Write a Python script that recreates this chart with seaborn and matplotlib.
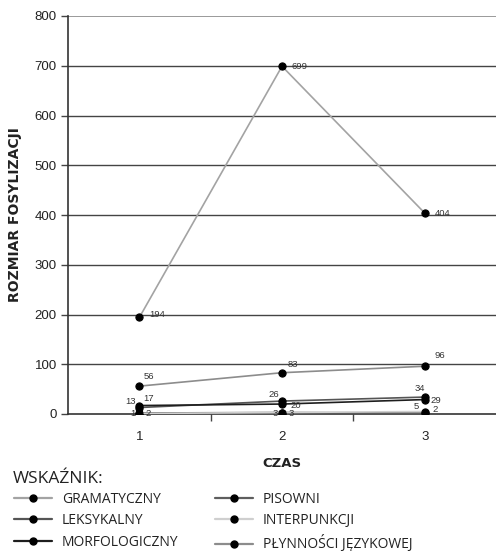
import matplotlib
matplotlib.use("Agg")
import matplotlib.pyplot as plt
from matplotlib.lines import Line2D
import seaborn as sns
import pandas as pd

# ---- data ----
czas = [1, 2, 3]
series_names = ["GRAMATYCZNY", "LEKSYKALNY", "MORFOLOGICZNY",
                "PISOWNI", "INTERPUNKCJI", "PŁYNNOŚCI JĘZYKOWEJ"]
gramatyczny = [194, 699, 404]
leksykalny = [13, 26, 34]
morfologiczny = [17, 20, 29]
pisowni = [2, 3, 2]
interpunkcji = [1, 3, 5]
plynnosci = [56, 83, 96]
values = [gramatyczny, leksykalny, morfologiczny, pisowni, interpunkcji, plynnosci]
y_ticks = [0, 100, 200, 300, 400, 500, 600, 700, 800]

# ---- styles ----
colors = ["#a3a3a3", "#555555", "#1e1e1e", "#5e5e5e", "#cfcfcf", "#8c8c8c"]
# label offsets in pixels (dx, dy, ha) per series per point
label_offsets = [
    [(10, 3, "left"), (10, 0, "left"), (10, 0, "left")],
    [(-4, 6, "right"), (-3, 7, "right"), (0, 9, "right")],
    [(4, 7, "left"), (8, -1, "left"), (6, -1, "left")],
    [(6, 0, "left"), (7, -1, "left"), (8, 4, "left")],
    [(-4, 0, "right"), (-4, -1, "right"), (-6, 5, "right")],
    [(4, 10, "left"), (6, 8, "left"), (10, 11, "left")],
]

sns.set_theme(style="white")
plt.rcParams["font.family"] = ["Liberation Sans", "DejaVu Sans"]

fig = plt.figure(figsize=(4.96, 5.51), dpi=100)
ax = fig.add_axes([68 / 496, 1 - 414 / 551, 1 - 68 / 496, (414 - 16) / 551])

rows = []
for name, vals in zip(series_names, values):
    for t, v in zip(czas, vals):
        rows.append({"czas": t, "val": v, "series": name})
df = pd.DataFrame(rows)

ax.set_axisbelow(True)
for yt in y_ticks[1:-1]:
    ax.axhline(yt, color="#444444", lw=1.0, zorder=0)
ax.axhline(800, color="#9a9a9a", lw=1.4, zorder=0)

for i, name in enumerate(series_names):
    sub = df[df["series"] == name]
    sns.lineplot(data=sub, x="czas", y="val", ax=ax, color=colors[i],
                 lw=1.2, marker="o", markersize=5.2, markerfacecolor="black",
                 markeredgecolor="black", zorder=3 + i)

px = 0.72  # pixels to points
for i, vals in enumerate(values):
    for j, (t, v) in enumerate(zip(czas, vals)):
        dx, dy, ha = label_offsets[i][j]
        ax.annotate(str(v), (t, v), xytext=(dx * px, dy * px),
                    textcoords="offset points", ha=ha, va="center",
                    fontsize=6.8, color="#333333", zorder=10)

ax.set_xlim(0.5, 3.5)
ax.set_ylim(0, 800)
ax.set_yticks(y_ticks)
ax.set_xticks(czas)
ax.set_xticks([1.5, 2.5], minor=True)
ax.tick_params(axis="x", which="major", length=0, labelsize=9.5, pad=12,
               colors="#222222")
ax.tick_params(axis="x", which="minor", length=5, width=1, color="#444444",
               direction="out", bottom=True)
ax.tick_params(axis="y", which="major", length=5, width=1, color="#444444",
               direction="out", left=True, labelsize=9.5, pad=3, labelcolor="#222222")
for s in ["top", "right"]:
    ax.spines[s].set_visible(False)
for s in ["left", "bottom"]:
    ax.spines[s].set_color("#333333")
    ax.spines[s].set_linewidth(1.2)

ax.set_xlabel("CZAS", fontsize=9.5, fontweight="bold", family="DejaVu Sans",
              labelpad=10, color="#222222")
ax.set_ylabel("ROZMIAR FOSYLIZACJI", fontsize=10, fontweight="bold",
              family="DejaVu Sans", labelpad=9, color="#222222")

fig.text(13 / 496, 1 - 479 / 551, "WSKAŹNIK:", fontsize=12.5, ha="left",
         va="center", family="Open Sans", color="#222222")

handles = [Line2D([0], [0], color=c, lw=1.6, marker="o", markersize=5,
                  markerfacecolor="black", markeredgecolor="black")
           for c in colors]
leg_kw = dict(frameon=False, handlelength=2.7, handletextpad=0.75,
              labelspacing=0.45, borderpad=0, borderaxespad=0,
              prop={"family": "Open Sans", "size": 10},
              labelcolor="#222222", numpoints=1)
fig.legend(handles[:3], series_names[:3], loc="upper left",
           bbox_to_anchor=(14 / 496, 1 - 492 / 551), **leg_kw)
fig.legend(handles[3:], series_names[3:], loc="upper left",
           bbox_to_anchor=(215 / 496, 1 - 492 / 551), **leg_kw)

fig.savefig("out.png", dpi=100)
